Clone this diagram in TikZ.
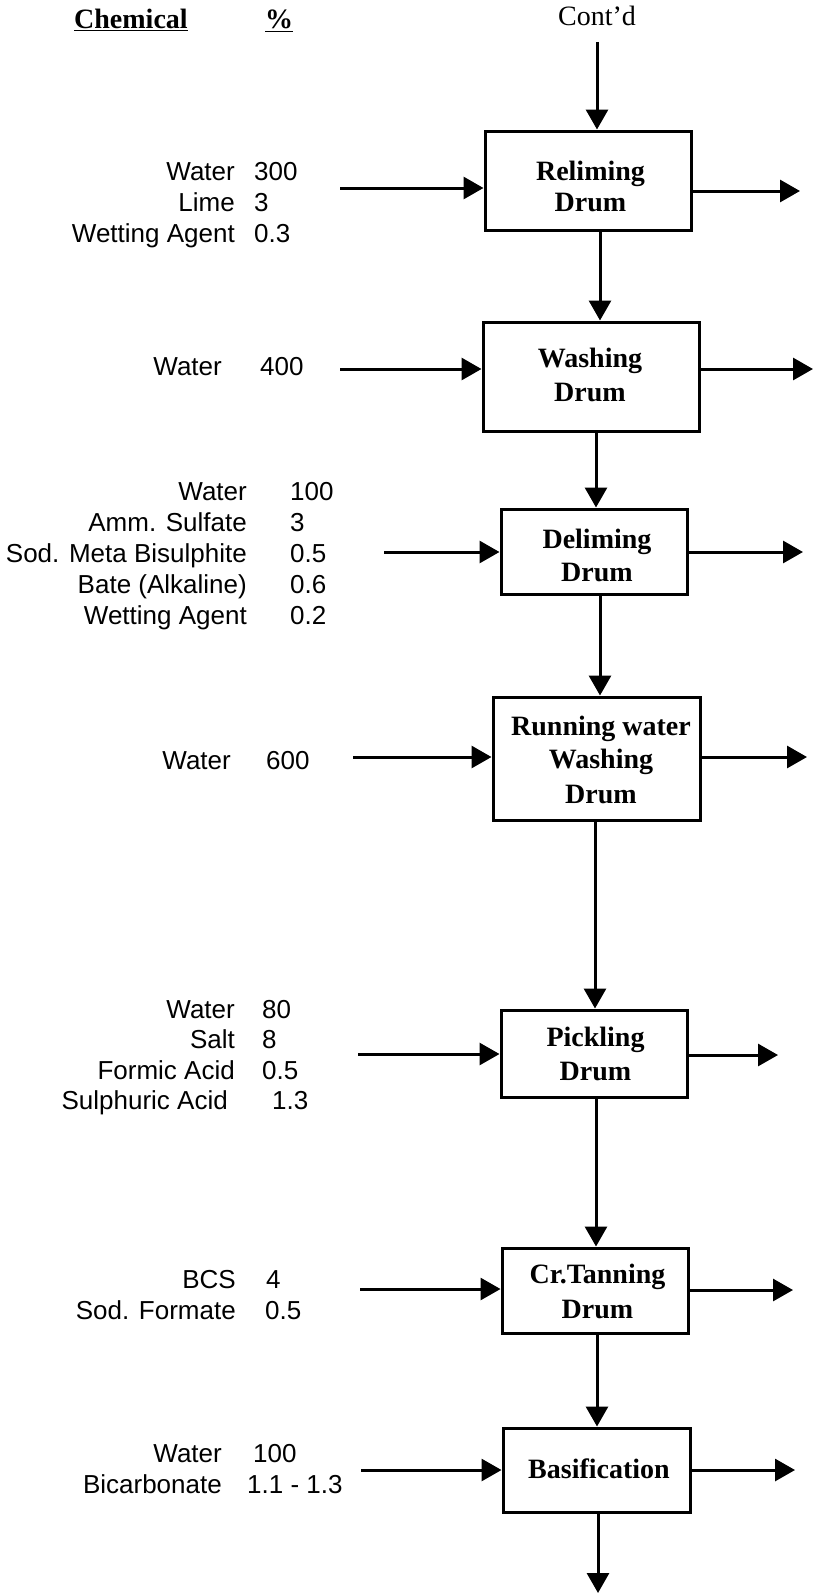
\documentclass[tikz,border=0pt]{standalone}
\usepackage{fontspec}
\setmainfont{Liberation Serif}
\newfontfamily\labelfont{Liberation Sans}
\usetikzlibrary{arrows.meta}

\tikzset{
  flow/.style={line width=3pt, -{Triangle[length=20pt,width=22pt]}},
  drum/.style={draw, line width=3pt, inner sep=0pt},
  drumtext/.style={font=\fontsize{28}{34}\selectfont\bfseries, anchor=base, inner sep=0pt},
  headtext/.style={font=\fontsize{28}{34}\selectfont\bfseries, anchor=base west, inner sep=0pt},
  chemname/.style={font=\labelfont\fontsize{26}{31}\selectfont, anchor=base east, inner sep=0pt},
  chemval/.style={font=\labelfont\fontsize{26}{31}\selectfont, anchor=base west, inner sep=0pt},
}

% one row of the chemical list: name, right edge of label, left edge of value, baseline, label, value
\newcommand\chemrow[6]{%
  \node[chemname] (#1n) at (#2,#4) {#5};
  \node[chemval]  (#1v) at (#3,#4) {#6};}

\begin{document}
\begin{tikzpicture}[x=1pt,y=-1pt]
\useasboundingbox (0,0) rectangle (814,1595);

% column headings
\node[headtext] (hchem) at (74,29) {\underline{Chemical}};
\node[headtext] (hpct)  at (265,29) {\underline{\%}};
\node[font=\fontsize{28}{34}\selectfont, anchor=base, inner sep=0pt] (cont) at (597,26) {Cont'd};

% process drums
\node[drum, minimum width=206pt, minimum height=99pt]  (b1) at (588,180.5) {};
\node[drum, minimum width=216pt, minimum height=109pt] (b2) at (591,376.5) {};
\node[drum, minimum width=186pt, minimum height=85pt]  (b3) at (594,551.5) {};
\node[drum, minimum width=207pt, minimum height=123pt] (b4) at (596.5,758.5) {};
\node[drum, minimum width=186pt, minimum height=87pt]  (b5) at (594,1053.5) {};
\node[drum, minimum width=186pt, minimum height=85pt]  (b6) at (595,1290.5) {};
\node[drum, minimum width=187pt, minimum height=84pt]  (b7) at (596.5,1470) {};

% drum captions
\node[drumtext] (t1a) at (590.5,180) {Reliming};
\node[drumtext] (t1b) at (590.5,211.7) {Drum};
\node[drumtext] (t2a) at (590,367) {Washing};
\node[drumtext] (t2b) at (590,401.7) {Drum};
\node[drumtext] (t3a) at (597,548) {Deliming};
\node[drumtext] (t3b) at (597,581.7) {Drum};
\node[drumtext] (t4a) at (601,735) {Running water};
\node[drumtext] (t4b) at (601,768) {Washing};
\node[drumtext] (t4c) at (601,803) {Drum};
\node[drumtext] (t5a) at (595.5,1046.7) {Pickling};
\node[drumtext] (t5b) at (595.5,1080) {Drum};
\node[drumtext] (t6a) at (597.5,1283) {Cr.Tanning};
\node[drumtext] (t6b) at (597.5,1318) {Drum};
\node[drumtext] (t7a) at (599,1478) {Basification};

% chemical additions
\chemrow{r1}{235}{254}{180}{Water}{300}
\chemrow{r2}{235}{254}{211}{Lime}{3}
\chemrow{r3}{235}{254}{242}{Wetting Agent}{0.3}

\chemrow{w1}{222}{260}{375}{Water}{400}

\chemrow{d1}{247}{290}{500}{Water}{100}
\chemrow{d2}{247}{290}{531}{Amm. Sulfate}{3}
\chemrow{d3}{247}{290}{562}{Sod. Meta Bisulphite}{0.5}
\chemrow{d4}{247}{290}{593}{Bate (Alkaline)}{0.6}
\chemrow{d5}{247}{290}{624}{Wetting Agent}{0.2}

\chemrow{s1}{231}{266}{769}{Water}{600}

\chemrow{p1}{235}{262}{1018}{Water}{80}
\chemrow{p2}{235}{262}{1048.5}{Salt}{8}
\chemrow{p3}{235}{262}{1079}{Formic Acid}{0.5}
\chemrow{p4}{228}{272}{1109.5}{Sulphuric Acid}{1.3}

\chemrow{c1}{236}{266}{1288}{BCS}{4}
\chemrow{c2}{236}{265}{1319}{Sod. Formate}{0.5}

\chemrow{a1}{222}{253}{1462}{Water}{100}
\chemrow{a2}{222}{247}{1493}{Bicarbonate}{1.1 - 1.3}

% main flow columns
\coordinate (v1) at (600,0);
\coordinate (v2) at (596,0);
\coordinate (v3) at (600,0);
\coordinate (v4) at (595,0);
\coordinate (v5) at (596,0);
\coordinate (v6) at (597,0);
\coordinate (outlet) at (598,1593);

\draw[flow] ([yshift=-16pt]cont.base) -- (cont.base |- b1.north);
\draw[flow] (b1.south -| v1) -- (b2.north -| v1);
\draw[flow] (b2.south -| v2) -- (b3.north -| v2);
\draw[flow] (b3.south -| v3) -- (b4.north -| v3);
\draw[flow] (b4.south -| v4) -- (b5.north -| v4);
\draw[flow] (b5.south -| v5) -- (b6.north -| v5);
\draw[flow] (b6.south -| v6) -- (b7.north -| v6);
\draw[flow] (b7.south -| outlet) -- (outlet);

% feed arrows
\coordinate (in1) at (340,188);
\coordinate (in2) at (340,369);
\coordinate (in3) at (384,552);
\coordinate (in4) at (353,757);
\coordinate (in5) at (358,1054);
\coordinate (in6) at (360,1289);
\coordinate (in7) at (361,1470);
\foreach \i in {1,...,7} {
  \draw[flow] (in\i) -- (in\i -| b\i.west);
}

% discharge arrows
\coordinate (out1) at (800,191);
\coordinate (out2) at (813,369);
\coordinate (out3) at (803,552);
\coordinate (out4) at (807,757);
\coordinate (out5) at (778,1055);
\coordinate (out6) at (793,1290);
\coordinate (out7) at (795,1470);
\foreach \i in {1,...,7} {
  \draw[flow] (b\i.east |- out\i) -- (out\i);
}
\end{tikzpicture}
\end{document}
